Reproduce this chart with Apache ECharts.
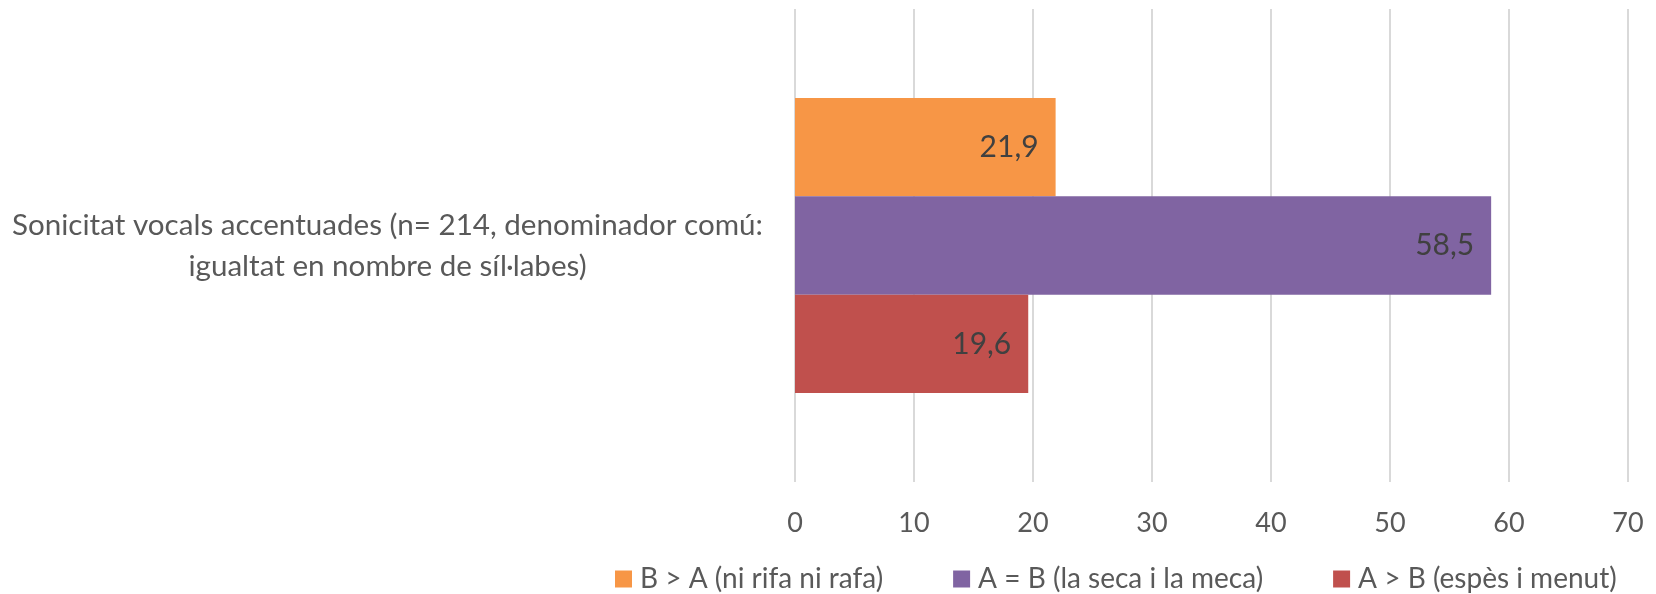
<!DOCTYPE html>
<html>
<head>
<meta charset="utf-8">
<script src="https://cdn.jsdelivr.net/npm/echarts@6/dist/echarts.min.js"></script>
<style>
html,body{margin:0;padding:0;background:#fff;}
#chart{width:1656px;height:594px;}
</style>
</head>
<body>
<div id="chart"></div>
<script>
const categories = ['Sonicitat vocals accentuades (n= 214, denominador comú:\nigualtat en nombre de síl·labes)'];
const seriesNames = ['B > A (ni rifa ni rafa)', 'A = B (la seca i la meca)', 'A > B (espès i menut)'];
const seriesColors = ['#F79646', '#8064A2', '#C0504D'];
const valuesBgtA = [21.9];
const valuesAeqB = [58.5];
const valuesAgtB = [19.6];
const seriesValues = [valuesBgtA, valuesAeqB, valuesAgtB];
const xTicks = [0, 10, 20, 30, 40, 50, 60, 70];

const FONT = 'Lato';
const chart = echarts.init(document.getElementById('chart'), null, {renderer: 'canvas'});

const series = seriesNames.map((name, i) => ({
  name: name,
  type: 'bar',
  data: seriesValues[i],
  barGap: '0%',
  barCategoryGap: '37.6%',
  itemStyle: {color: seriesColors[i]},
  label: {
    show: true,
    position: 'insideRight',
    distance: 17,
    color: '#404040',
    fontFamily: FONT,
    fontSize: 30,
    formatter: p => p.value.toFixed(1).replace('.', ',')
  }
}));

chart.setOption({
  animation: false,
  textStyle: {fontFamily: FONT},
  grid: {left: 795, right: 28, top: 9, bottom: 112, containLabel: false},
  legend: {
    data: seriesNames,
    left: 610,
    top: 560,
    icon: 'rect',
    itemWidth: 17,
    itemHeight: 17,
    itemGap: 70,
    textStyle: {color: '#595959', fontSize: 28, fontFamily: FONT, padding: [0, 0, 0, 3]}
  },
  xAxis: {
    type: 'value',
    min: xTicks[0],
    max: xTicks[xTicks.length - 1],
    interval: 10,
    axisLine: {show: false},
    axisTick: {show: false},
    splitLine: {show: true, lineStyle: {color: '#D9D9D9', width: 2}},
    axisLabel: {color: '#595959', fontSize: 27, fontFamily: FONT, margin: 28}
  },
  yAxis: {
    type: 'category',
    data: categories,
    inverse: true,
    axisLine: {show: false},
    axisTick: {show: false},
    axisLabel: {
      margin: 32,
      formatter: v => v.split('\n').map(s => '{a|' + s + '}').join('\n'),
      rich: {
        a: {width: 751, align: 'center', color: '#595959', fontSize: 29.6, fontFamily: FONT, lineHeight: 41}
      }
    }
  },
  series: series
});
</script>
</body>
</html>
